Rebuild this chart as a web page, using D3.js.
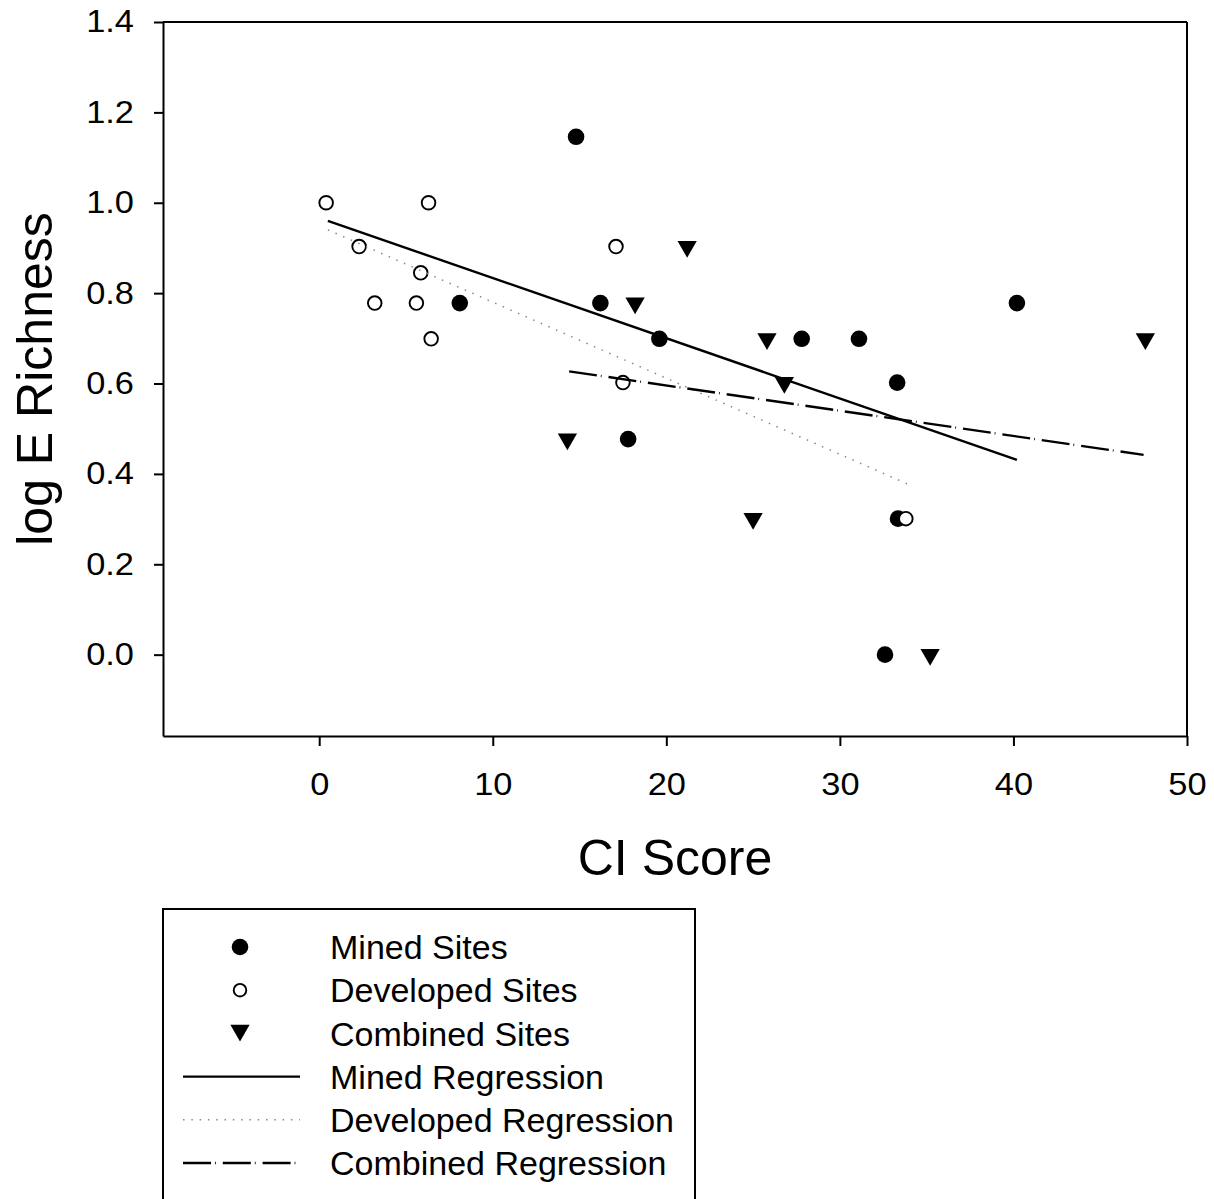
<!DOCTYPE html>
<html>
<head>
<meta charset="utf-8">
<script src="https://cdn.jsdelivr.net/npm/d3@7"></script>
<style>
  body { margin: 0; background: #fff; }
  text { font-family: "Liberation Sans", Arial, sans-serif; fill: #000; }
</style>
</head>
<body>
<script>
// values (log10 of richness)
const minedX = [8.1, 14.8, 16.2, 17.8, 19.6, 27.8, 31.1, 32.6, 33.3, 33.35, 40.2];
const minedY = [0.778, 1.146, 0.778, 0.477, 0.699, 0.699, 0.699, 0.0, 0.602, 0.301, 0.778];

const developedX = [0.4, 2.3, 3.2, 5.6, 5.85, 6.3, 6.45, 17.1, 17.5, 33.8];
const developedY = [1.0, 0.903, 0.778, 0.778, 0.845, 1.0, 0.699, 0.903, 0.602, 0.301];

const combinedX = [14.3, 18.2, 21.2, 25.0, 25.8, 26.8, 35.2, 47.6];
const combinedY = [0.477, 0.778, 0.903, 0.301, 0.699, 0.602, 0.0, 0.699];

// regression lines, start and end
const minedLineX = [0.5, 40.2];
const minedLineY = [0.960, 0.431];
const developedLineX = [0.5, 34.0];
const developedLineY = [0.940, 0.376];
const combinedLineX = [14.4, 47.5];
const combinedLineY = [0.627, 0.442];

const xTicks = [0, 10, 20, 30, 40, 50];
const yTicks = [0, 0.2, 0.4, 0.6, 0.8, 1.0, 1.2, 1.4];

const legendLabels = ["Mined Sites", "Developed Sites", "Combined Sites",
    "Mined Regression", "Developed Regression", "Combined Regression"];

function drawChart() {
    var width = 1214, height = 1199;
    var plotLeft = 163, plotRight = 1187, plotTop = 22, plotBottom = 736;

    var svg = d3.select('body').append('svg')
        .attr('width', width)
        .attr('height', height);

    var x = d3.scaleLinear().domain([-9, 50]).range([plotLeft, plotRight]);
    var y = d3.scaleLinear().domain([-0.18, 1.4]).range([plotBottom, plotTop]);

    // tick labels in the picture are a little wide for their height
    var stretch = 1.11;

    // axes
    var yAxis = d3.axisLeft(y)
        .tickValues(yTicks)
        .tickFormat(d3.format('.1f'))
        .tickSize(9)
        .tickSizeOuter(0)
        .tickPadding(20);
    var gy = svg.append('g')
        .attr('transform', 'translate(' + plotLeft + ',0)')
        .call(yAxis);
    gy.selectAll('text')
        .attr('font-size', 31)
        .attr('font-family', '"Liberation Sans", Arial, sans-serif')
        .attr('x', -29 / stretch)
        .attr('transform', 'scale(' + stretch + ',1)');

    var xAxis = d3.axisBottom(x)
        .tickValues(xTicks)
        .tickFormat(d3.format('d'))
        .tickSize(10)
        .tickSizeOuter(0)
        .tickPadding(27);
    var gx = svg.append('g')
        .attr('transform', 'translate(0,' + plotBottom + ')')
        .call(xAxis);
    gx.selectAll('text')
        .attr('font-size', 31)
        .attr('font-family', '"Liberation Sans", Arial, sans-serif')
        .attr('transform', 'scale(' + stretch + ',1)');

    svg.selectAll('.domain, .tick line')
        .attr('stroke', '#000')
        .attr('stroke-width', 2);

    // frame top and right
    svg.append('line')
        .attr('x1', x.range()[0]).attr('x2', x.range()[1])
        .attr('y1', y.range()[1]).attr('y2', y.range()[1])
        .attr('stroke', '#000').attr('stroke-width', 2);
    svg.append('line')
        .attr('x1', x.range()[1]).attr('x2', x.range()[1])
        .attr('y1', y.range()[0]).attr('y2', y.range()[1])
        .attr('stroke', '#000').attr('stroke-width', 2);

    // titles
    svg.append('text')
        .attr('x', (plotLeft + plotRight) / 2)
        .attr('y', 875)
        .attr('text-anchor', 'middle')
        .attr('font-size', 50)
        .text('CI Score');
    svg.append('text')
        .attr('transform', 'translate(52,' + (plotTop + plotBottom) / 2 + ') rotate(-90)')
        .attr('text-anchor', 'middle')
        .attr('font-size', 50)
        .text('log E Richness');

    var tri = d3.symbol().type(d3.symbolTriangle).size(161);

    // points
    var pts = svg.append('g');
    pts.selectAll('.mined')
        .data(d3.zip(minedX, minedY))
        .enter().append('circle')
        .attr('class', 'mined')
        .attr('cx', d => x(d[0]))
        .attr('cy', d => y(d[1]))
        .attr('r', 8.3)
        .attr('fill', '#000');
    pts.selectAll('.developed')
        .data(d3.zip(developedX, developedY))
        .enter().append('circle')
        .attr('class', 'developed')
        .attr('cx', d => x(d[0]))
        .attr('cy', d => y(d[1]))
        .attr('r', 6.8)
        .attr('fill', '#fff')
        .attr('stroke', '#000')
        .attr('stroke-width', 1.9);
    pts.selectAll('.combined')
        .data(d3.zip(combinedX, combinedY))
        .enter().append('path')
        .attr('class', 'combined')
        .attr('d', tri)
        .attr('transform', d => 'translate(' + x(d[0]) + ',' + y(d[1]) + ') rotate(180)')
        .attr('fill', '#000');

    // regression lines
    var line = d3.line().x(d => x(d[0])).y(d => y(d[1]));
    svg.append('path')
        .datum(d3.zip(minedLineX, minedLineY))
        .attr('d', line)
        .attr('fill', 'none')
        .attr('stroke', '#000')
        .attr('stroke-width', 2.4);
    svg.append('path')
        .datum(d3.zip(developedLineX, developedLineY))
        .attr('d', line)
        .attr('fill', 'none')
        .attr('stroke', '#888')
        .attr('stroke-width', 1.5)
        .attr('stroke-dasharray', '1.5,6.8');
    svg.append('path')
        .datum(d3.zip(combinedLineX, combinedLineY))
        .attr('d', line)
        .attr('fill', 'none')
        .attr('stroke', '#000')
        .attr('stroke-width', 2.4)
        .attr('stroke-dasharray', '28,4,0.8,7');

    // legend
    var legTop = 909, legLeft = 163, legRight = 695;
    svg.append('rect')
        .attr('x', legLeft)
        .attr('y', legTop)
        .attr('width', legRight - legLeft)
        .attr('height', 400)
        .attr('fill', 'none')
        .attr('stroke', '#000')
        .attr('stroke-width', 2);

    var rowY = d3.scaleLinear().domain([0, 5]).range([947, 1163]);
    var symX = 240, lineX1 = 183, lineX2 = 300, textX = 330;

    var leg = svg.append('g');
    leg.selectAll('text')
        .data(legendLabels)
        .enter().append('text')
        .attr('x', textX)
        .attr('y', (d, i) => rowY(i))
        .attr('dy', '0.36em')
        .attr('font-size', 34)
        .text(d => d);

    leg.append('circle')
        .attr('cx', symX).attr('cy', rowY(0)).attr('r', 8.3).attr('fill', '#000');
    leg.append('circle')
        .attr('cx', symX).attr('cy', rowY(1)).attr('r', 6.3)
        .attr('fill', '#fff').attr('stroke', '#000').attr('stroke-width', 1.9);
    leg.append('path')
        .attr('d', tri)
        .attr('transform', 'translate(' + symX + ',' + (rowY(2) - 3) + ') rotate(180)')
        .attr('fill', '#000');
    leg.append('line')
        .attr('x1', lineX1).attr('x2', lineX2)
        .attr('y1', rowY(3)).attr('y2', rowY(3))
        .attr('stroke', '#000').attr('stroke-width', 2.4);
    leg.append('line')
        .attr('x1', lineX1).attr('x2', lineX2)
        .attr('y1', rowY(4)).attr('y2', rowY(4))
        .attr('stroke', '#888').attr('stroke-width', 1.5)
        .attr('stroke-dasharray', '1.5,6.8');
    leg.append('line')
        .attr('x1', lineX1).attr('x2', lineX2)
        .attr('y1', rowY(5)).attr('y2', rowY(5))
        .attr('stroke', '#000').attr('stroke-width', 2.4)
        .attr('stroke-dasharray', '28,4,0.8,7');
}

drawChart();
</script>
</body>
</html>
